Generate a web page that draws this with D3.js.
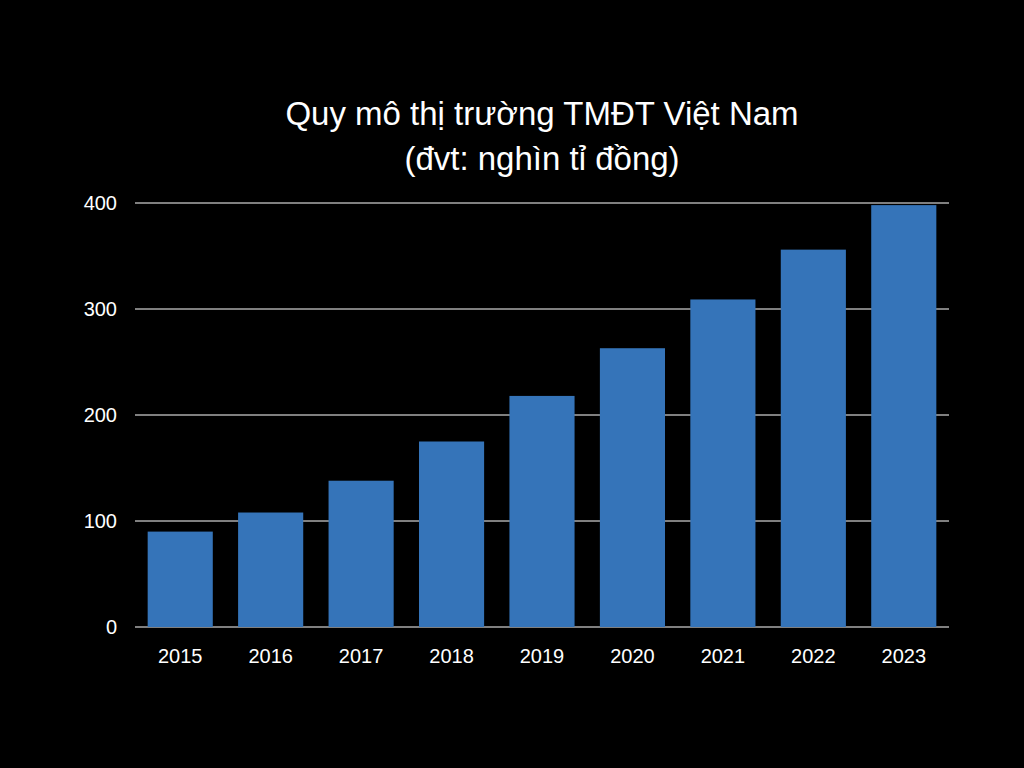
<!DOCTYPE html>
<html><head><meta charset="utf-8">
<script src="https://cdn.jsdelivr.net/npm/d3@7"></script>
<style>body{margin:0;background:#000}svg{display:block}</style>
</head><body>
<script>
const years = ["2015","2016","2017","2018","2019","2020","2021","2022","2023"];
const values = [90, 108, 138, 175, 218, 263, 309, 356, 398];
const yTicks = [0, 100, 200, 300, 400];
const titleLines = ["Quy mô thị trường TMĐT Việt Nam", "(đvt: nghìn tỉ đồng)"];

const W = 1024, H = 768;
const margin = { top: 203, right: 75, bottom: 141, left: 135 };
const svg = d3.select("body").append("svg").attr("width", W).attr("height", H)
  .style("background", "#000").style("font-family", "'Liberation Sans', Arial, sans-serif");

const x = d3.scaleBand().domain(years).range([margin.left, W - margin.right])
  .paddingInner(0.28).paddingOuter(0.14);
const y = d3.scaleLinear().domain([0, 400]).range([H - margin.bottom, margin.top]);

// grid lines
svg.append("g").selectAll("line").data(yTicks).join("line")
  .attr("x1", margin.left).attr("x2", W - margin.right)
  .attr("y1", d => y(d)).attr("y2", d => y(d))
  .attr("stroke", "#fff").attr("stroke-width", 1);

svg.append("g").selectAll("text").data(yTicks).join("text")
  .attr("x", margin.left - 18).attr("y", d => y(d)).attr("dy", "0.35em")
  .attr("text-anchor", "end").attr("fill", "#fff").attr("font-size", 20).text(d => d);

svg.append("g").selectAll("rect").data(values).join("rect")
  .attr("x", (d, i) => x(years[i])).attr("width", x.bandwidth())
  .attr("y", d => y(d)).attr("height", d => y(0) - y(d))
  .attr("fill", "#3574b9");

svg.append("g").selectAll("text").data(years).join("text")
  .attr("x", d => x(d) + x.bandwidth() / 2).attr("y", y(0) + 36)
  .attr("text-anchor", "middle").attr("fill", "#fff").attr("font-size", 20).text(d => d);

svg.append("g").selectAll("text").data(titleLines).join("text")
  .attr("x", 542).attr("y", (d, i) => 125 + i * 45)
  .attr("text-anchor", "middle").attr("fill", "#fff").attr("font-size", 33).text(d => d);
</script>
</body></html>
